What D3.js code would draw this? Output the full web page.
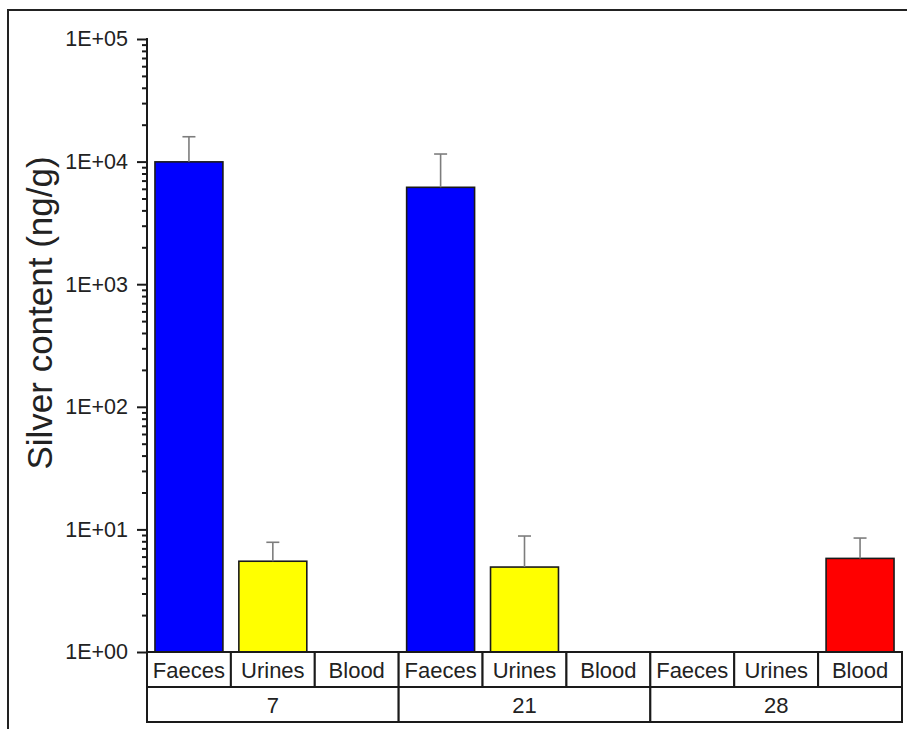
<!DOCTYPE html>
<html>
<head>
<meta charset="utf-8">
<script src="https://cdn.jsdelivr.net/npm/d3@7"></script>
<style>
  html, body { margin: 0; padding: 0; background: #fff; }
  svg { display: block; font-family: "Liberation Sans", Arial, sans-serif; }
</style>
</head>
<body>
<svg id="chart" width="907" height="729"></svg>
<script>
// Sampling days and the fluids measured on each day
const days = ["7", "21", "28"];
const fluids = ["Faeces", "Urines", "Blood"];
const fluidColors = ["#0000ff", "#ffff00", "#ff0000"];

// Mean silver content (ng/g) per day, in fluid order; null = not measured
const meanDay7 = [9950, 5.5, null];
const meanDay21 = [6170, 4.93, null];
const meanDay28 = [null, null, 5.8];

// Upper error (standard deviation, ng/g) per day, in fluid order
const sdDay7 = [6000, 2.35, null];
const sdDay21 = [5360, 3.9, null];
const sdDay28 = [null, null, 2.7];

// Log-axis decades and their labels
const tickValues = [1, 10, 100, 1000, 10000, 100000];
const tickLabels = ["1E+00", "1E+01", "1E+02", "1E+03", "1E+04", "1E+05"];

const means = [meanDay7, meanDay21, meanDay28];
const sds = [sdDay7, sdDay21, sdDay28];

const rows = [];
days.forEach((d, i) => fluids.forEach((f, j) => {
  rows.push({ day: d, fluid: f, color: fluidColors[j], mean: means[i][j], sd: sds[i][j] });
}));

const svg = d3.select("#chart");
const plotLeft = 147, plotRight = 902, plotTop = 39, plotBase = 652, rowH = 35;

// Outer frame
svg.append("rect")
  .attr("x", 8).attr("y", 10).attr("width", 920).attr("height", 740)
  .attr("fill", "none").attr("stroke", "#222").attr("stroke-width", 2);

const x0 = d3.scaleBand().domain(days).range([plotLeft, plotRight]).padding(0);
const x1 = d3.scaleBand().domain(fluids).range([0, x0.bandwidth()]).padding(0);
const y = d3.scaleLog().domain([1, 1e5]).range([plotBase, plotTop]);

const barFrac = 0.81;
const g = svg.append("g");

// Bars
const valid = rows.filter(r => r.mean != null);
g.selectAll("rect.bar").data(valid).join("rect")
  .attr("class", "bar")
  .attr("x", r => x0(r.day) + x1(r.fluid) + x1.bandwidth() * (1 - barFrac) / 2)
  .attr("width", x1.bandwidth() * barFrac)
  .attr("y", r => y(r.mean))
  .attr("height", r => y(1) - y(r.mean))
  .attr("fill", r => r.color)
  .attr("stroke", "#1a1a1a").attr("stroke-width", 1.6);

// Upper error bars
const cx = r => x0(r.day) + x1(r.fluid) + x1.bandwidth() / 2;
const eb = g.selectAll("g.err").data(valid).join("g").attr("class", "err")
  .attr("stroke", "#7d7d7d").attr("stroke-width", 1.6);
eb.append("line")
  .attr("x1", cx).attr("x2", cx)
  .attr("y1", r => y(r.mean)).attr("y2", r => y(r.mean + r.sd));
eb.append("line")
  .attr("x1", r => cx(r) - 6.5).attr("x2", r => cx(r) + 6.5)
  .attr("y1", r => y(r.mean + r.sd)).attr("y2", r => y(r.mean + r.sd));

// Y axis with major decade ticks and minor ticks
const minor = [];
for (let e = 0; e < 5; e++) for (let k = 2; k <= 9; k++) minor.push(k * Math.pow(10, e));
const yAxisG = svg.append("g").attr("transform", `translate(${plotLeft},0)`);
yAxisG.call(d3.axisLeft(y).tickValues(minor).tickSize(5).tickFormat(""))
  .call(s => s.select(".domain").remove());
yAxisG.append("g").call(d3.axisLeft(y).tickValues(tickValues).tickSize(10).tickPadding(9)
  .tickFormat((d, i) => tickLabels[i]))
  .call(s => s.select(".domain").remove());
yAxisG.append("line").attr("x1", 0).attr("x2", 0).attr("y1", plotTop - 1).attr("y2", plotBase)
  .attr("stroke", "#1a1a1a").attr("stroke-width", 2);
yAxisG.selectAll(".tick line").attr("stroke", "#1a1a1a").attr("stroke-width", 2);
yAxisG.selectAll(".tick text").attr("font-size", 21.5).attr("fill", "#222")
  .attr("font-family", "Liberation Sans, Arial, sans-serif");

// Y axis title
svg.append("text")
  .attr("transform", "translate(52,313) rotate(-90)")
  .attr("text-anchor", "middle")
  .attr("font-size", 35).attr("fill", "#222")
  .text("Silver content (ng/g)");

// Category table below the axis: fluid row and day row
const table = svg.append("g").attr("stroke", "#1a1a1a").attr("stroke-width", 2).attr("fill", "#fff");
table.selectAll("rect.cell").data(rows).join("rect")
  .attr("x", r => x0(r.day) + x1(r.fluid)).attr("y", plotBase)
  .attr("width", x1.bandwidth()).attr("height", rowH);
table.selectAll("rect.day").data(days).join("rect")
  .attr("x", d => x0(d)).attr("y", plotBase + rowH)
  .attr("width", x0.bandwidth()).attr("height", rowH);

const labels = svg.append("g").attr("font-size", 22).attr("fill", "#222").attr("text-anchor", "middle");
labels.selectAll("text.f").data(rows).join("text")
  .attr("x", cx).attr("y", plotBase + rowH / 2 + 8).text(r => r.fluid);
labels.selectAll("text.d").data(days).join("text")
  .attr("x", d => x0(d) + x0.bandwidth() / 2).attr("y", plotBase + rowH * 1.5 + 8).text(d => d);
</script>
</body>
</html>
